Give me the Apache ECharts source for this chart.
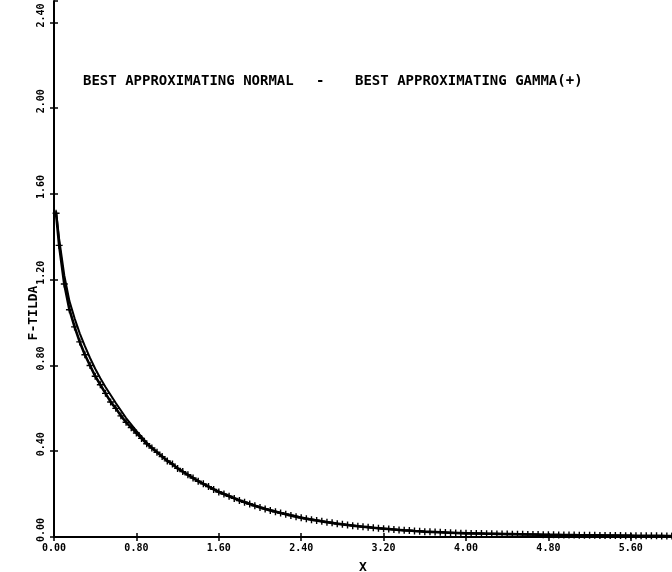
<!DOCTYPE html>
<html><head><meta charset="utf-8">
<script src="https://cdn.jsdelivr.net/npm/echarts@6/dist/echarts.min.js"></script>
<style>html,body{margin:0;padding:0;background:#fff}#c{width:672px;height:572px}</style>
</head><body><div id="c"></div>
<script>
// ---- data ----
const titleLeft = 'BEST APPROXIMATING NORMAL';
const titleDash = '-';
const titleRight = 'BEST APPROXIMATING GAMMA(+)';
const xName = 'X';
const yName = 'F-TILDA';

// best approximating normal (plain line)
const normalX = [0.02,0.05,0.10,0.15,0.20,0.25,0.30,0.35,0.40,0.45,0.50,0.60,0.70,0.80,0.90,1.00,1.20,1.40,1.60,1.80,2.00,2.20,2.40,2.60,2.80,3.00,3.20,3.40,3.60,3.80,4.00,4.40,4.80,5.20,5.60,6.00];
const normalY = [1.52,1.39,1.22,1.10,1.02,0.95,0.89,0.835,0.785,0.74,0.70,0.625,0.555,0.495,0.44,0.395,0.32,0.262,0.212,0.172,0.139,0.113,0.091,0.073,0.059,0.048,0.039,0.031,0.025,0.021,0.018,0.014,0.010,0.008,0.006,0.005];

// best approximating gamma (line with + markers)
const gammaX = [0.02,0.05,0.10,0.15,0.20,0.25,0.30,0.35,0.40,0.45,0.50,0.55,0.60,0.65,0.70,0.75,0.80,0.85,0.90,0.95,
  1.00,1.05,1.10,1.15,1.20,1.25,1.30,1.35,1.40,1.45,1.50,1.55,1.60,1.65,1.70,1.75,1.80,1.85,1.90,1.95,
  2.00,2.05,2.10,2.15,2.20,2.25,2.30,2.35,2.40,2.45,2.50,2.55,2.60,2.65,2.70,2.75,2.80,2.85,2.90,2.95,
  3.00,3.05,3.10,3.15,3.20,3.25,3.30,3.35,3.40,3.45,3.50,3.55,3.60,3.65,3.70,3.75,3.80,3.85,3.90,3.95,
  4.00,4.05,4.10,4.15,4.20,4.25,4.30,4.35,4.40,4.45,4.50,4.55,4.60,4.65,4.70,4.75,4.80,4.85,4.90,4.95,
  5.00,5.05,5.10,5.15,5.20,5.25,5.30,5.35,5.40,5.45,5.50,5.55,5.60,5.65,5.70,5.75,5.80,5.85,5.90,5.95,6.00];
const gammaY = [1.51,1.36,1.18,1.06,0.98,0.91,0.85,0.80,0.75,0.71,0.67,0.63,0.60,0.565,0.535,0.51,0.485,0.46,0.435,0.415,
  0.395,0.375,0.355,0.34,0.32,0.305,0.29,0.275,0.26,0.248,0.235,0.222,0.21,0.20,0.19,0.18,0.17,0.162,0.154,0.146,
  0.138,0.131,0.124,0.118,0.112,0.106,0.10,0.095,0.09,0.085,0.081,0.077,0.073,0.069,0.066,0.062,0.059,0.056,0.053,0.05,
  0.048,0.046,0.043,0.041,0.039,0.037,0.035,0.033,0.031,0.030,0.028,0.027,0.025,0.024,0.023,0.022,0.021,0.020,0.019,0.018,
  0.017,0.0167,0.0163,0.016,0.0155,0.015,0.0145,0.014,0.0136,0.0132,0.0128,0.0124,0.012,0.0116,0.0112,0.0108,0.0104,0.010,0.0097,0.0094,
  0.0091,0.0088,0.0085,0.0082,0.008,0.0077,0.0075,0.0072,0.007,0.0068,0.0066,0.0064,0.0062,0.006,0.0058,0.0056,0.0055,0.0053,0.0052,0.005,0.0049];

const xMin = 0, xMax = 6.0, xStep = 0.8;
const yMin = 0, yMax = 2.5, yStep = 0.4;

// ---- chart ----
const pair = (xs, ys) => xs.map((x, i) => [x, ys[i]]);
const ink = '#000';
const labelFont = {color: ink, fontFamily: 'DejaVu Sans Mono', fontWeight: 'bold', fontSize: 10};
const plus = 'path://M-0.2,-1H0.2V-0.2H1V0.2H0.2V1H-0.2V0.2H-1V-0.2H-0.2Z';

const chart = echarts.init(document.getElementById('c'), null, {renderer: 'canvas'});
chart.setOption({
  animation: false,
  backgroundColor: '#fff',
  grid: {left: 54, right: 0, top: 1, bottom: 35, containLabel: false, outerBoundsMode: 'none'},
  graphic: [
    {type: 'text', left: 83, top: 74, style: {text: titleLeft, fill: ink, font: 'bold 14px "DejaVu Sans Mono"'}},
    {type: 'text', left: 316, top: 74, style: {text: titleDash, fill: ink, font: 'bold 14px "DejaVu Sans Mono"'}},
    {type: 'text', left: 355, top: 74, style: {text: titleRight, fill: ink, font: 'bold 14px "DejaVu Sans Mono"'}}
  ],
  xAxis: [{
    type: 'value', min: xMin, max: xMax, interval: xStep, position: 'bottom',
    name: xName, nameLocation: 'middle', nameGap: 24, nameMoveOverlap: false,
    nameTextStyle: {color: ink, fontFamily: 'DejaVu Sans Mono', fontWeight: 'bold', fontSize: 13},
    axisLine: {lineStyle: {color: ink, width: 2}},
    axisTick: {length: 4, lineStyle: {color: ink, width: 1.5}},
    axisLabel: Object.assign({margin: 6, showMaxLabel: false, formatter: v => v.toFixed(2)}, labelFont),
    splitLine: {show: false}
  }, {
    type: 'value', min: xMin, max: xMax, interval: xStep, position: 'bottom',
    axisLine: {show: false}, axisLabel: {show: false}, splitLine: {show: false},
    axisTick: {inside: true, length: 4, lineStyle: {color: ink, width: 1.5}}
  }],
  yAxis: [{
    type: 'value', min: yMin, max: yMax, interval: yStep, position: 'left',
    name: yName, nameLocation: 'middle', nameGap: 14, nameRotate: 90, nameMoveOverlap: false,
    nameTextStyle: {color: ink, fontFamily: 'DejaVu Sans Mono', fontWeight: 'bold', fontSize: 13, padding: [0, 88, 0, 0]},
    axisLine: {lineStyle: {color: ink, width: 2}},
    axisTick: {length: 4, lineStyle: {color: ink, width: 1.5}},
    axisLabel: Object.assign({margin: 8, rotate: 90, showMaxLabel: false, padding: [0, 0, 0, 14], formatter: v => v.toFixed(2)}, labelFont),
    splitLine: {show: false}
  }, {
    type: 'value', min: yMin, max: yMax, interval: yStep, position: 'left',
    axisLine: {show: false}, axisLabel: {show: false}, splitLine: {show: false},
    axisTick: {inside: true, length: 4, lineStyle: {color: ink, width: 1.5}}
  }],
  series: [{
    name: 'normal', type: 'line', xAxisIndex: 0, yAxisIndex: 0,
    data: pair(normalX, normalY), showSymbol: false, symbol: 'none',
    lineStyle: {color: ink, width: 2}, z: 3
  }, {
    name: 'gamma', type: 'line', xAxisIndex: 0, yAxisIndex: 0,
    data: pair(gammaX, gammaY), symbol: plus, symbolSize: 7, showSymbol: true,
    itemStyle: {color: ink}, lineStyle: {color: ink, width: 2.6}, z: 4
  }]
});
</script></body></html>
